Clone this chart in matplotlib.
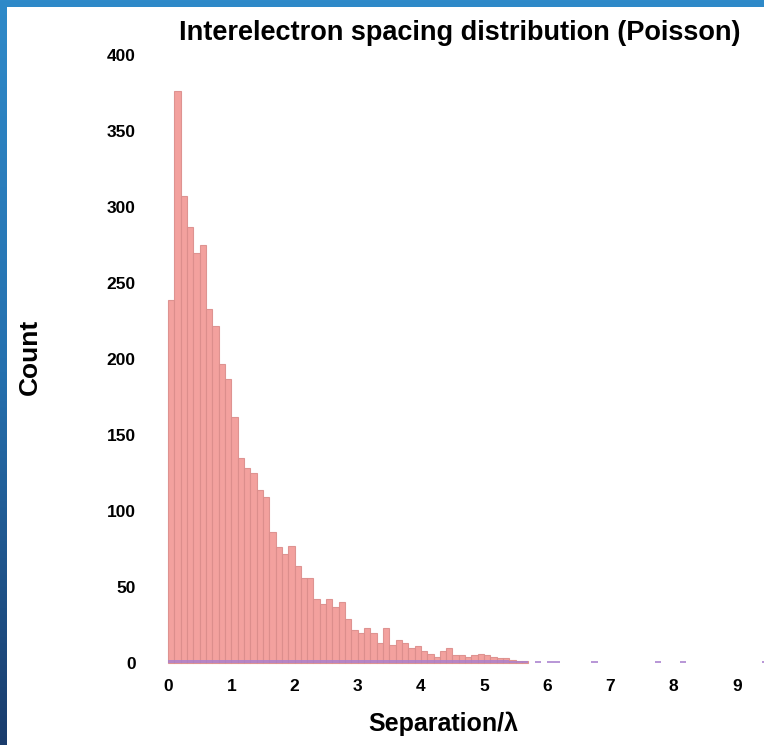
import numpy as np
import matplotlib
matplotlib.use("Agg")
import matplotlib.pyplot as plt
from matplotlib.patches import Rectangle
from matplotlib.colors import LinearSegmentedColormap

# ---- data ----
bin_width = 0.1
salmon_counts = [239, 376, 307, 287, 270, 275, 233, 222, 197, 187,
                 162, 135, 128, 125, 114, 109, 86, 76, 72, 77,
                 64, 56, 56, 42, 39, 42, 37, 40, 29, 22,
                 20, 23, 20, 13, 23, 12, 15, 13, 10, 11,
                 8, 6, 4, 8, 10, 5, 5, 4, 5, 6,
                 5, 4, 3, 3, 2, 1, 1]
purple_counts = [2] * 54 + [1, 1, 1, 0, 1, 0, 1, 1, 0, 0,
                            0, 0, 0, 1, 0, 0, 0, 0, 0, 0,
                            0, 0, 0, 1, 0, 0, 0, 1, 0, 0,
                            0, 0, 0, 0, 0, 0, 0, 0, 0, 0,
                            1]
x_ticks = [0, 1, 2, 3, 4, 5, 6, 7, 8, 9]
y_ticks = [0, 50, 100, 150, 200, 250, 300, 350, 400]
title = "Interelectron spacing distribution (Poisson)"
xlabel = "Separation/λ"
ylabel = "Count"

W, H = 764, 745
fig = plt.figure(figsize=(W / 100, H / 100), dpi=100)

# background gradient frame
bg = fig.add_axes([0, 0, 1, 1], zorder=-10)
grad = np.linspace(0, 1, 256).reshape(-1, 1)
cmap = LinearSegmentedColormap.from_list("frame", ["#2f8ac9", "#2570ae", "#1a3c6c"])
bg.imshow(grad, aspect="auto", cmap=cmap, extent=[0, 1, 0, 1], origin="upper")
bg.add_patch(Rectangle((7 / W, 0), 1, (H - 7) / H, transform=bg.transAxes,
                       facecolor="white", edgecolor="none"))
bg.set_xlim(0, 1)
bg.set_ylim(0, 1)
bg.axis("off")

plt.rcParams["font.family"] = ["Liberation Sans", "DejaVu Sans"]

# axes placement: x data 0 at px 168, 63.2 px/unit; y 0 at px 663, 1.52 px/count
left_px, right_px = 165, 764
top_px, bot_px = 45, 665
ax = fig.add_axes([left_px / W, 1 - bot_px / H, (right_px - left_px) / W, (bot_px - top_px) / H])
ax.set_facecolor("none")

edges_s = np.arange(len(salmon_counts)) * bin_width
edges_p = np.arange(len(purple_counts)) * bin_width
ax.bar(edges_s, salmon_counts, width=bin_width, align="edge",
       color="#f39996", alpha=0.92, edgecolor="#dc8e8c", linewidth=0.8)
ax.bar(edges_p, purple_counts, width=bin_width, align="edge",
       color="#a87fce", alpha=0.8, edgecolor="none")

ax.set_xlim(-0.05, (right_px - 168) / 63.2)
ax.set_ylim((663 - bot_px) / 1.52, (663 - top_px) / 1.52)
ax.set_xticks(x_ticks)
ax.set_yticks(y_ticks)
for s in ax.spines.values():
    s.set_visible(False)
ax.tick_params(axis="x", length=0, pad=10, labelsize=12.5)
ax.tick_params(axis="y", length=0, pad=21, labelsize=12.5)
for lab in ax.get_xticklabels() + ax.get_yticklabels():
    lab.set_fontweight("bold")

fig.text(460 / W, 1 - 33 / H, title, ha="center", va="center",
         fontsize=19.5, fontweight="bold")
fig.text(443 / W, 1 - 724 / H, xlabel, ha="center", va="center",
         fontsize=18, fontweight="bold")
fig.text(30 / W, 1 - 357 / H, ylabel, ha="center", va="center",
         fontsize=19, fontweight="bold", rotation=90)

fig.savefig("out.png", dpi=100)
